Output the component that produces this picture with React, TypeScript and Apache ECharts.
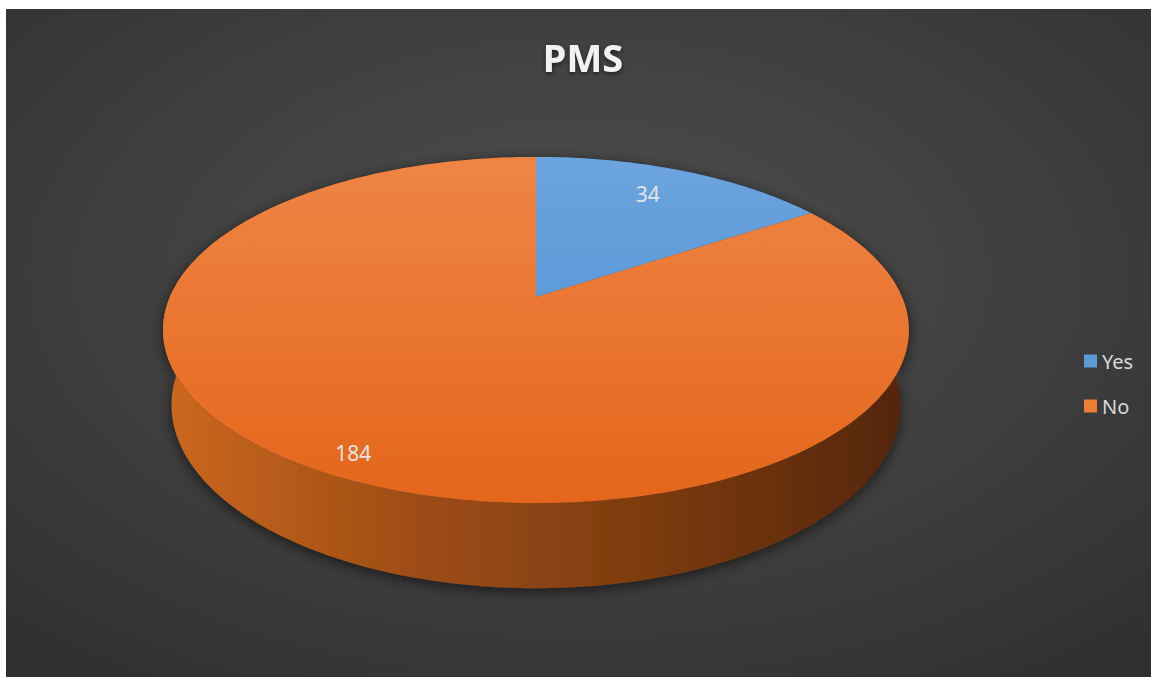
import React, { useEffect, useRef } from "react";
import * as echarts from "echarts";

// ---- data ----
const categories: string[] = ["Yes", "No"];
const values: number[] = [34, 184];
const titleText = "PMS";

// ---- style ----
const topColors: [string, string][] = [
  ["#6ca4de", "#478dd0"],
  ["#ef8545", "#e4661b"],
];
const wallColors: string[][] = [
  ["#3b6fa3", "#2c5a86", "#1f4468"],
  ["#cc681e", "#9e4d15", "#7a3a10", "#532507"],
];
const legendColors = ["#5b9bd5", "#ed7d31"];
const labelRadius = [0.78, 0.9];

// ---- 3D projection (perspective) ----
const CX = 536;
const CY = 297;
const F = 1708.4;
const D = 1;
const R = 0.2143;
const ALPHA = (27.1 * Math.PI) / 180;
const H = 0.0496;
const SA = Math.sin(ALPHA);
const CA = Math.cos(ALPHA);

function project(x: number, y: number, z: number): number[] {
  const yp = y * CA + z * SA;
  const zp = -y * SA + z * CA;
  const d = D + zp;
  return [CX + (F * x) / d, CY - (F * yp) / d];
}
function rim(theta: number, y: number, frac = 1): number[] {
  return project(frac * R * Math.sin(theta), y, frac * R * Math.cos(theta));
}

const total = values.reduce((a, b) => a + b, 0);
const starts: number[] = values.map((_, i) =>
  values.slice(0, i).reduce((a, b) => a + b, 0)
);

export default function App() {
  const ref = useRef<HTMLDivElement>(null);
  useEffect(() => {
    if (!ref.current) return;
    const chart = echarts.init(ref.current, undefined, { renderer: "svg" });

    const renderItem = (params: any, api: any) => {
      const idx = params.seriesIndex;
      const start = api.value(0);
      const val = api.value(1);
      const tot = api.value(2);
      const a0 = (start / tot) * Math.PI * 2;
      const a1 = ((start + val) / tot) * Math.PI * 2;
      const steps = Math.max(2, Math.ceil(((a1 - a0) * 180) / Math.PI));
      const topEdge: number[][] = [];
      const botEdge: number[][] = [];
      for (let s = 0; s <= steps; s++) {
        const t = a0 + ((a1 - a0) * s) / steps;
        topEdge.push(rim(t, 0));
        botEdge.push(rim(t, -H));
      }
      const topPoly = [project(0, 0, 0), ...topEdge];
      const wallPoly = [...topEdge, ...botEdge.slice().reverse()];
      const mid = (a0 + a1) / 2 - (idx === 0 ? 0.03 : 0);
      const lp = rim(mid, 0, labelRadius[idx]);
      const wc = wallColors[idx];
      return {
        type: "group",
        children: [
          {
            type: "polygon",
            z2: 1,
            shape: { points: wallPoly },
            style: {
              fill: {
                type: "linear",
                x: 163,
                y: 0,
                x2: 909,
                y2: 0,
                global: true,
                colorStops: wc.map((c, i) => ({
                  offset: i / (wc.length - 1),
                  color: c,
                })),
              },
              shadowColor: "rgba(0,0,0,0.6)",
              shadowBlur: 14,
              shadowOffsetY: 3,
            },
          },
          {
            type: "polygon",
            z2: 5,
            shape: { points: topPoly },
            style: {
              fill: {
                type: "linear",
                x: 0,
                y: 157,
                x2: 0,
                y2: 503,
                global: true,
                colorStops: [
                  { offset: 0, color: topColors[idx][0] },
                  { offset: 1, color: topColors[idx][1] },
                ],
              },
            },
          },
          {
            type: "text",
            z2: 10,
            x: lp[0],
            y: lp[1],
            style: {
              text: String(val),
              fill: "#e3e3e3",
              font: '21px "Noto Sans"',
              align: "center",
              verticalAlign: "middle",
            },
          },
        ],
      };
    };

    chart.setOption({
      animation: false,
      backgroundColor: "#ffffff",
      graphic: [
        {
          type: "rect",
          z: -10,
          shape: { x: 6, y: 9, width: 1145, height: 668 },
          style: {
            fill: {
              type: "radial",
              x: 0.5,
              y: 0.4,
              r: 1.0,
              colorStops: [
                { offset: 0, color: "#505050" },
                { offset: 1, color: "#252525" },
              ],
            },
          },
        },
      ],
      title: {
        text: titleText,
        left: 578,
        top: 33,
        textAlign: "center",
        textStyle: {
          color: "#f2f2f2",
          fontFamily: "Noto Sans",
          fontWeight: "bold",
          fontSize: 38,
          textShadowColor: "rgba(0,0,0,0.55)",
          textShadowBlur: 4,
          textShadowOffsetY: 2,
        },
      },
      legend: {
        orient: "vertical",
        left: 1079,
        top: 346,
        itemWidth: 13,
        itemHeight: 13,
        itemGap: 25,
        icon: "rect",
        data: categories,
        selectedMode: false,
        textStyle: {
          color: "#d9d9d9",
          fontFamily: "Noto Sans",
          fontSize: 20,
          lineHeight: 20,
        },
        itemTextGap: 4,
      } as any,
      series: categories.map((name, i) => ({
        type: "custom",
        name,
        coordinateSystem: "none",
        itemStyle: { color: legendColors[i] },
        data: [{ name, value: [starts[i], values[i], total] }],
        renderItem,
      })),
    });
    return () => chart.dispose();
  }, []);
  return (
    <div
      ref={ref}
      style={{ position: "fixed", left: 0, top: 0, width: 1151, height: 677 }}
    />
  );
}
